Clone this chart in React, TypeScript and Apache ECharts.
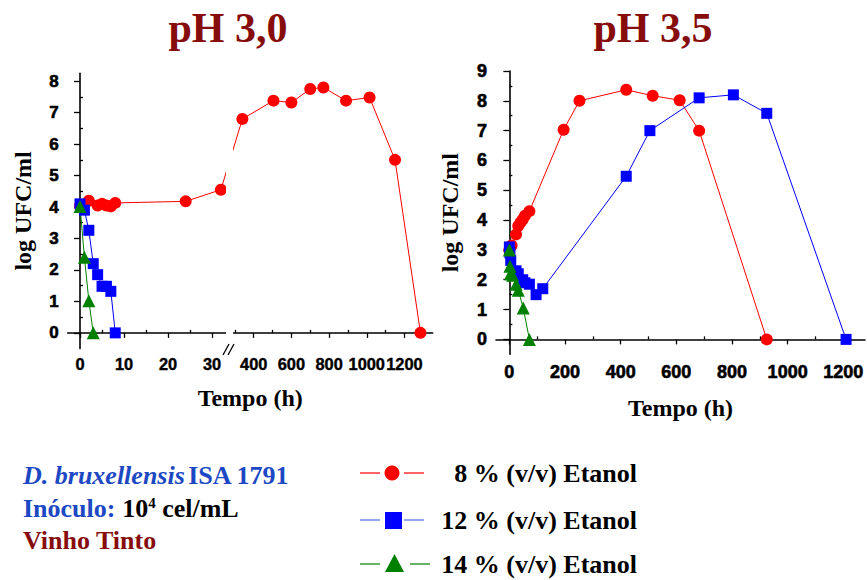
import React, { useEffect, useRef } from "react";
import * as echarts from "echarts";

// ---------- data: pH 3,0 ----------
const LEFT_TIME_8 = [0, 2, 4, 5, 6, 7, 8, 24, 32, 340, 505, 600, 700, 770, 890, 1015, 1150, 1285];
const LEFT_LOG_8 = [4.05, 4.2, 4.05, 4.1, 4.05, 4.02, 4.13, 4.18, 4.55, 6.8, 7.38, 7.32, 7.75, 7.8, 7.38, 7.48, 5.5, 0];
const LEFT_TIME_12 = [0, 1, 2, 3, 4, 5, 6, 7, 8];
const LEFT_LOG_12 = [4.1, 3.9, 3.26, 2.2, 1.85, 1.48, 1.48, 1.32, 0];
const LEFT_TIME_14 = [0, 1, 2, 3];
const LEFT_LOG_14 = [4.02, 2.4, 1.02, 0];

// ---------- data: pH 3,5 ----------
const RIGHT_TIME_8 = [0, 8, 24, 32, 40, 48, 56, 72, 195, 252, 420, 515, 612, 682, 925];
const RIGHT_LOG_8 = [3.0, 3.15, 3.52, 3.8, 3.92, 4.02, 4.15, 4.3, 7.03, 8.0, 8.37, 8.17, 8.02, 7.0, 0];
const RIGHT_TIME_12 = [0, 2, 5, 24, 32, 48, 56, 72, 96, 120, 420, 505, 682, 805, 925, 1210];
const RIGHT_LOG_12 = [3.1, 2.9, 2.65, 2.3, 2.2, 2.0, 1.9, 1.85, 1.5, 1.7, 5.47, 7.0, 8.1, 8.2, 7.58, 0];
const RIGHT_TIME_14 = [0, 2, 4, 12, 24, 32, 50, 72];
const RIGHT_LOG_14 = [3.0, 2.45, 2.2, 2.15, 1.85, 1.65, 1.05, 0];

// ---------- ticks ----------
const LEFT_X_LABELS = [0, 10, 20, 30, 400, 600, 800, 1000, 1200];
const LEFT_X_MINOR = [5, 15, 25, 300, 500, 700, 900, 1100, 1300];
const LEFT_Y_LABELS = [0, 1, 2, 3, 4, 5, 6, 7, 8];
const LEFT_Y_MINOR = [0.5, 1.5, 2.5, 3.5, 4.5, 5.5, 6.5, 7.5];
const RIGHT_X_LABELS = [0, 200, 400, 600, 800, 1000, 1200];
const RIGHT_X_MINOR = [100, 300, 500, 700, 900, 1100];
const RIGHT_Y_LABELS = [0, 1, 2, 3, 4, 5, 6, 7, 8, 9];
const RIGHT_Y_MINOR = [0.5, 1.5, 2.5, 3.5, 4.5, 5.5, 6.5, 7.5, 8.5];

const SERIES_NAMES = ["8 % (v/v) Etanol", "12 % (v/v) Etanol", "14 % (v/v) Etanol"];

// broken time axis for pH 3,0 (0–34 h, then 272.7 h onwards compressed)
const BREAK_END = 34;
const BREAK_RESUME = 272.7;
const RIGHT_SCALE = 0.0428;
const toDisplay = (t: number) => (t <= BREAK_END ? t : BREAK_END + (t - BREAK_RESUME) * RIGHT_SCALE);

const SERIF = '"Liberation Serif", "Times New Roman", serif';
const SANS = '"Liberation Sans", Arial, sans-serif';
const RED = "#ff0000";
const BLUE = "#0000ff";
const GREEN = "#008000";
const DARKRED = "#870d0d";
const TEXTBLUE = "#1c48c4";

const pairs = (ts: number[], vs: number[], f = (t: number) => t) => ts.map((t, i) => [f(t), vs[i]]);

const axisLine = { show: true, lineStyle: { color: "#000", width: 1.6 } };
const tickLine = { color: "#000", width: 1.3 };

export default function App() {
  const ref = useRef<HTMLDivElement>(null);

  useEffect(() => {
    if (!ref.current) return;
    const chart = echarts.init(ref.current, undefined, { renderer: "svg" });

    const lx = { left: 67.7, top: 73.3, width: 365, height: 275.3 };
    const rx = { left: 496, top: 71, width: 369, height: 283.3 };
    const leftXMin = -2.8;
    const leftXMax = toDisplay(1350);
    const rightXMin = -48;
    const rightXMax = 1278;

    const leftXFormatter = (v: number) => {
      const t = LEFT_X_LABELS.find((x) => Math.abs(toDisplay(x) - v) < 1e-6);
      return t === undefined ? "" : String(t);
    };
    const plain = (v: number) => String(v);

    const nameStyle = { fontFamily: SERIF, fontWeight: "bold", fontSize: 24, color: "#000" };
    const lab = (size: number, border = 0.6) => ({
      color: "#000",
      fontFamily: SANS,
      fontWeight: "bold",
      fontSize: size,
      textBorderColor: "#000",
      textBorderWidth: border,
      hideOverlap: false,
    });

    const lineSeries = (
      name: string,
      data: number[][],
      color: string,
      symbol: string,
      size: number,
      xi: number,
      yi: number
    ) => ({
      name,
      type: "line",
      xAxisIndex: xi,
      yAxisIndex: yi,
      data,
      symbol,
      symbolSize: size,
      itemStyle: { color },
      lineStyle: { color, width: 1 },
      clip: false,
    });

    const legendEntry = (y: number, color: string, lineColor: string, shape: any, text: string, rightGap: number) => [
      { type: "line", shape: { x1: 360, y1: y, x2: 380, y2: y }, style: { stroke: lineColor, lineWidth: 1.2 } },
      { type: "line", shape: { x1: 404 + rightGap, y1: y, x2: 424 + rightGap, y2: y }, style: { stroke: lineColor, lineWidth: 1.2 } },
      { ...shape, style: { fill: color } },
      {
        type: "text",
        x: 637,
        y,
        style: {
          text,
          fill: "#000",
          font: `bold 26px ${SERIF}`,
          align: "right",
          verticalAlign: "middle",
        },
      },
    ];

    chart.setOption({
      animation: false,
      backgroundColor: "#fff",
      grid: [
        { ...lx, containLabel: false },
        { ...rx, containLabel: false },
      ],
      xAxis: [
        {
          type: "value",
          gridIndex: 0,
          min: leftXMin,
          max: leftXMax,
          name: "Tempo (h)",
          nameLocation: "middle",
          nameGap: 37,
          nameTextStyle: nameStyle,
          axisLine,
          splitLine: { show: false },
          axisTick: { show: true, customValues: LEFT_X_LABELS.map(toDisplay), length: 5, lineStyle: tickLine },
          axisLabel: { ...lab(16.4, 0.4), customValues: LEFT_X_LABELS.map(toDisplay), formatter: leftXFormatter, margin: 7 },
        },
        {
          type: "value",
          gridIndex: 0,
          min: leftXMin,
          max: leftXMax,
          axisLine: { show: false },
          splitLine: { show: false },
          axisTick: { show: true, customValues: LEFT_X_MINOR.map(toDisplay), length: 3, lineStyle: tickLine },
          axisLabel: { show: false },
        },
        {
          type: "value",
          gridIndex: 1,
          min: rightXMin,
          max: rightXMax,
          name: "Tempo (h)",
          nameLocation: "middle",
          nameGap: 42,
          nameTextStyle: nameStyle,
          axisLine,
          splitLine: { show: false },
          axisTick: { show: true, customValues: RIGHT_X_LABELS, length: 5, lineStyle: tickLine },
          axisLabel: { ...lab(18), customValues: RIGHT_X_LABELS, formatter: plain, margin: 9 },
        },
        {
          type: "value",
          gridIndex: 1,
          min: rightXMin,
          max: rightXMax,
          axisLine: { show: false },
          splitLine: { show: false },
          axisTick: { show: true, customValues: RIGHT_X_MINOR, length: 3, lineStyle: tickLine },
          axisLabel: { show: false },
        },
      ],
      yAxis: [
        {
          type: "value",
          gridIndex: 0,
          min: -0.5,
          max: 8.25,
          name: "log UFC/ml",
          nameLocation: "middle",
          nameGap: 33,
          nameTextStyle: nameStyle,
          axisLine,
          splitLine: { show: false },
          axisTick: { show: true, customValues: LEFT_Y_LABELS, length: 6, lineStyle: tickLine },
          axisLabel: { ...lab(17), customValues: LEFT_Y_LABELS, formatter: plain, margin: 9 },
        },
        {
          type: "value",
          gridIndex: 0,
          min: -0.5,
          max: 8.25,
          axisLine: { show: false },
          splitLine: { show: false },
          axisTick: { show: true, customValues: LEFT_Y_MINOR, length: 3, lineStyle: tickLine },
          axisLabel: { show: false },
        },
        {
          type: "value",
          gridIndex: 1,
          min: -0.5,
          max: 9,
          name: "log UFC/ml",
          nameLocation: "middle",
          nameGap: 34,
          nameTextStyle: nameStyle,
          axisLine,
          splitLine: { show: false },
          axisTick: { show: true, customValues: RIGHT_Y_LABELS, length: 6, lineStyle: tickLine },
          axisLabel: { ...lab(18), customValues: RIGHT_Y_LABELS, formatter: plain, margin: 9 },
        },
        {
          type: "value",
          gridIndex: 1,
          min: -0.5,
          max: 9,
          axisLine: { show: false },
          splitLine: { show: false },
          axisTick: { show: true, customValues: RIGHT_Y_MINOR, length: 3, lineStyle: tickLine },
          axisLabel: { show: false },
        },
      ],
      series: [
        lineSeries(SERIES_NAMES[0], pairs(LEFT_TIME_8, LEFT_LOG_8, toDisplay), RED, "circle", 12, 0, 0),
        lineSeries(SERIES_NAMES[1], pairs(LEFT_TIME_12, LEFT_LOG_12, toDisplay), BLUE, "rect", 11, 0, 0),
        lineSeries(SERIES_NAMES[2], pairs(LEFT_TIME_14, LEFT_LOG_14, toDisplay), GREEN, "triangle", 13, 0, 0),
        lineSeries(SERIES_NAMES[0], pairs(RIGHT_TIME_8, RIGHT_LOG_8), RED, "circle", 12, 2, 2),
        lineSeries(SERIES_NAMES[1], pairs(RIGHT_TIME_12, RIGHT_LOG_12), BLUE, "rect", 11, 2, 2),
        lineSeries(SERIES_NAMES[2], pairs(RIGHT_TIME_14, RIGHT_LOG_14), GREEN, "triangle", 13, 2, 2),
      ],
      graphic: [
        // axis break on the pH 3,0 time axis
        { type: "rect", z: 100, shape: { x: 226, y: 70, width: 7, height: 276 }, style: { fill: "#fff" } },
        { type: "rect", z: 100, shape: { x: 224, y: 346, width: 11, height: 5 }, style: { fill: "#fff" } },
        { type: "line", z: 101, shape: { x1: 223, y1: 355, x2: 229, y2: 344 }, style: { stroke: "#000", lineWidth: 1.3 } },
        { type: "line", z: 101, shape: { x1: 228, y1: 355, x2: 234, y2: 344 }, style: { stroke: "#000", lineWidth: 1.3 } },
        // panel titles
        {
          type: "text",
          x: 228,
          y: 28,
          style: { text: "pH 3,0", fill: DARKRED, font: `bold 42px ${SERIF}`, align: "center", verticalAlign: "middle" },
        },
        {
          type: "text",
          x: 653,
          y: 28,
          style: { text: "pH 3,5", fill: DARKRED, font: `bold 42px ${SERIF}`, align: "center", verticalAlign: "middle" },
        },
        // strain info
        {
          type: "text",
          x: 23,
          y: 475,
          style: {
            text: "{i|D. bruxellensis} {b|ISA 1791}",
            verticalAlign: "middle",
            rich: {
              i: { fontFamily: SERIF, fontWeight: "bold", fontStyle: "italic", fontSize: 26, fill: TEXTBLUE },
              b: { fontFamily: SERIF, fontWeight: "bold", fontSize: 26, fill: TEXTBLUE },
            },
          },
        },
        {
          type: "text",
          x: 23,
          y: 508,
          style: {
            text: "{a|Inóculo:}  {k|10}{s|4}{k| cel/mL}",
            verticalAlign: "middle",
            rich: {
              a: { fontFamily: SERIF, fontWeight: "bold", fontSize: 26, fill: TEXTBLUE },
              k: { fontFamily: SERIF, fontWeight: "bold", fontSize: 26, fill: "#000" },
              s: { fontFamily: SERIF, fontWeight: "bold", fontSize: 15, fill: "#000", verticalAlign: "top" },
            },
          },
        },
        {
          type: "text",
          x: 23,
          y: 540,
          style: { text: "Vinho Tinto", fill: DARKRED, font: `bold 26px ${SERIF}`, verticalAlign: "middle" },
        },
        // legend
        ...legendEntry(473, RED, RED, { type: "circle", shape: { cx: 392, cy: 473, r: 7.5 } }, SERIES_NAMES[0], 0),
        ...legendEntry(520, BLUE, "#4a6ee0", { type: "rect", shape: { x: 385, y: 512, width: 17, height: 17 } }, SERIES_NAMES[1], 0),
        ...legendEntry(
          564,
          GREEN,
          GREEN,
          { type: "polygon", shape: { points: [[394.5, 554], [385, 572], [404, 572]] } },
          SERIES_NAMES[2],
          6
        ),
      ],
    });

    return () => chart.dispose();
  }, []);

  return (
    <div
      ref={ref}
      style={{ position: "absolute", left: 0, top: 0, width: 867, height: 580 }}
    />
  );
}
